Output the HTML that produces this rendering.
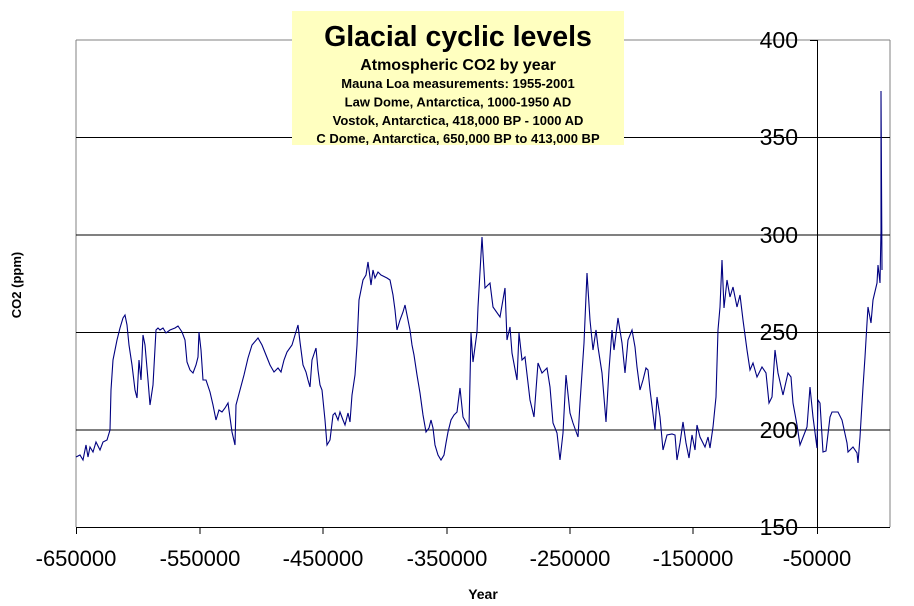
<!DOCTYPE html>
<html><head><meta charset="utf-8"><style>
html,body{margin:0;padding:0;background:#fff;}
svg{display:block;font-family:"Liberation Sans",Arial,sans-serif;}
</style></head><body>
<svg width="914" height="606" viewBox="0 0 914 606">
<rect width="914" height="606" fill="#fff"/>
<line x1="76" y1="40" x2="890" y2="40" stroke="#808080"/>
<line x1="76" y1="40" x2="76" y2="527" stroke="#808080"/>
<line x1="890" y1="40" x2="890" y2="527" stroke="#808080"/>
<g stroke="#000" stroke-width="1">
<line x1="76" y1="137.5" x2="890" y2="137.5"/>
<line x1="76" y1="235" x2="890" y2="235"/>
<line x1="76" y1="332.5" x2="890" y2="332.5"/>
<line x1="76" y1="430" x2="890" y2="430"/>
<line x1="76" y1="527.5" x2="890" y2="527.5"/>
<line x1="817.5" y1="40" x2="817.5" y2="534"/>
<line x1="76.5" y1="527" x2="76.5" y2="534"/>
<line x1="200" y1="527" x2="200" y2="534"/>
<line x1="323" y1="527" x2="323" y2="534"/>
<line x1="447" y1="527" x2="447" y2="534"/>
<line x1="570" y1="527" x2="570" y2="534"/>
<line x1="693" y1="527" x2="693" y2="534"/>
<line x1="810" y1="40.5" x2="817" y2="40.5"/>
<line x1="810" y1="137.5" x2="817" y2="137.5"/>
<line x1="810" y1="235" x2="817" y2="235"/>
<line x1="810" y1="332.5" x2="817" y2="332.5"/>
<line x1="810" y1="430" x2="817" y2="430"/>
</g>
<polyline fill="none" stroke="#000080" stroke-width="1.1" points="76,457 80,455 83,460 86,445 88,457 90,447 93,452 96,442 100,450 103,442 107,440 110,430 111,390 113,360 117,340 120,328 123,318 125,315 127,325 129,345 132,365 135,390 137,398 139,360 141,380 143,335 145,345 148,380 150,405 153,385 156,330 158,328 160,330 163,328 166,333 170,330 175,328 178,326 182,332 185,340 187,362 190,370 193,373 196,365 198,357 199,332 201,350 203,380 206,380 210,392 213,405 216,420 219,410 222,412 225,408 228,403 232,432 235,445 236,405 240,390 244,375 248,358 252,345 258,338 262,345 266,355 270,365 274,372 278,368 281,372 284,360 287,352 292,345 298,325 300,342 303,365 306,372 308,380 310,387 312,360 316,348 318,370 320,385 322,390 325,420 327,445 330,440 333,415 335,413 338,420 340,412 343,420 345,425 348,413 350,422 352,395 355,375 357,345 359,300 361,290 363,280 366,275 368,262 371,285 373,270 375,278 378,272 381,275 387,278 390,280 393,295 395,310 397,330 400,320 403,312 405,305 407,315 410,330 412,345 414,355 417,375 420,393 423,415 426,432 429,428 431,420 433,428 435,445 438,455 441,460 444,455 446,443 448,432 451,420 454,415 457,412 460,388 463,417 469,428 471,333 473,362 477,332 478,307 482,237 485,288 490,283 493,307 500,317 505,288 507,340 510,327 512,353 517,380 519,333 522,360 525,357 530,400 534,417 538,363 542,373 547,368 550,387 553,423 557,433 560,460 563,433 566,375 570,413 573,423 578,437 580,403 584,343 587,273 590,320 593,350 596,330 598,347 602,373 606,422 609,370 612,330 614,350 618,318 622,343 625,373 628,340 632,330 635,347 637,367 640,390 643,380 646,368 648,370 650,390 655,430 657,397 660,417 663,450 667,435 672,434 675,435 677,460 680,443 683,422 686,443 689,458 692,435 695,450 697,425 700,437 705,447 708,437 710,448 713,427 716,397 718,330 720,307 722,260 724,308 727,280 730,297 733,287 737,307 740,295 743,320 747,350 750,370 753,363 757,377 762,367 766,373 769,403 772,397 775,350 778,373 783,395 788,373 791,377 793,403 797,425 800,445 807,427 810,387 813,417 817,448 818,400 820,403 823,452 826,451 830,417 832,412 838,412 842,420 847,443 848,452 853,447 857,453 858,463 860,437 863,387 865,357 867,323 868,307 871,323 873,300 877,283 878,265 880,283 881,230 881,91 882,270"/>
<rect x="292" y="11" width="332" height="134" fill="#ffffc0"/>
<g text-anchor="middle" fill="#000" font-weight="bold">
<text x="458" y="46" font-size="28.5">Glacial cyclic levels</text>
<text x="458" y="70" font-size="16">Atmospheric CO2 by year</text>
<text x="458" y="88" font-size="13">Mauna Loa measurements: 1955-2001</text>
<text x="458" y="106.5" font-size="13">Law Dome, Antarctica, 1000-1950 AD</text>
<text x="458" y="125" font-size="13">Vostok, Antarctica, 418,000 BP - 1000 AD</text>
<text x="458" y="143" font-size="13">C Dome, Antarctica, 650,000 BP to 413,000 BP</text>
</g>
<g text-anchor="end" font-size="23" fill="#000">
<text x="798" y="48">400</text>
<text x="798" y="145">350</text>
<text x="798" y="243">300</text>
<text x="798" y="340">250</text>
<text x="798" y="438">200</text>
<text x="798" y="535">150</text>
</g>
<g text-anchor="middle" font-size="22" fill="#000">
<text x="76" y="566">-650000</text>
<text x="200" y="566">-550000</text>
<text x="323" y="566">-450000</text>
<text x="447" y="566">-350000</text>
<text x="570" y="566">-250000</text>
<text x="693" y="566">-150000</text>
<text x="817" y="566">-50000</text>
</g>
<text x="483" y="599" text-anchor="middle" font-size="14" font-weight="bold">Year</text>
<text x="0" y="0" transform="translate(21,285) rotate(-90)" text-anchor="middle" font-size="13" font-weight="bold">CO2 (ppm)</text>
</svg>
</body></html>
